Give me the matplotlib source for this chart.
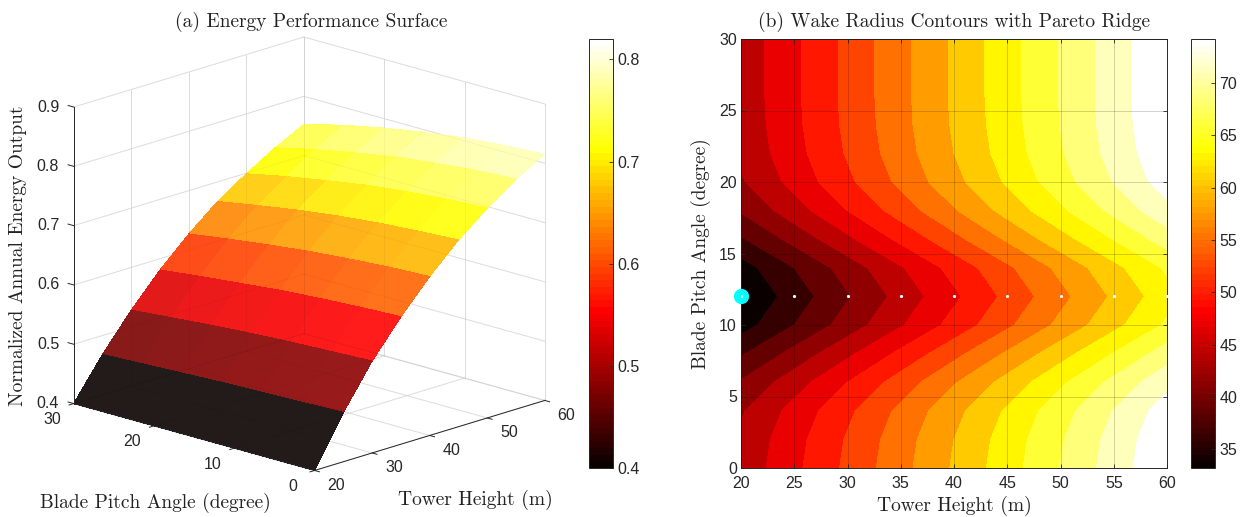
import numpy as np
import matplotlib
matplotlib.use('Agg')
import matplotlib.pyplot as plt
from matplotlib.cm import ScalarMappable
from matplotlib.colors import Normalize
from mpl_toolkits.mplot3d import proj3d

# surface panel
surf_height = [20, 25, 30, 35, 40, 45, 50, 55, 60]
surf_pitch = [0, 5, 10, 15, 20, 25, 30]
energy = [
    [.400, .483, .555, .615, .668, .715, .754, .788, .815],
    [.400, .481, .552, .612, .665, .711, .750, .784, .811],
    [.400, .479, .549, .608, .660, .706, .744, .777, .805],
    [.400, .477, .545, .603, .654, .699, .736, .769, .796],
    [.400, .474, .540, .596, .646, .690, .725, .757, .784],
    [.400, .471, .534, .589, .637, .679, .713, .744, .770],
    [.400, .468, .528, .581, .627, .667, .699, .728, .753],
]

# contour panel
wake_height = [20, 25, 30, 35, 40, 45, 50, 55, 60]
wake_pitch = [0, 2, 4, 6, 8, 10, 12, 14, 16, 18, 20, 22, 24, 26, 28, 30]
wake = [
    [44.2, 47.9, 51.6, 55.3, 59.0, 62.7, 66.4, 70.1, 73.8],
    [43.9, 47.6, 51.3, 55.0, 58.7, 62.4, 66.1, 69.8, 73.5],
    [43.1, 46.8, 50.5, 54.2, 57.9, 61.6, 65.3, 69.0, 72.7],
    [41.1, 44.8, 48.5, 52.2, 55.9, 59.6, 63.3, 67.0, 70.7],
    [38.0, 41.7, 45.4, 49.1, 52.8, 56.5, 60.2, 63.9, 67.6],
    [34.6, 38.3, 42.0, 45.7, 49.4, 53.1, 56.8, 60.5, 64.2],
    [33.2, 36.9, 40.6, 44.3, 48.0, 51.7, 55.4, 59.1, 62.8],
    [34.6, 38.3, 42.0, 45.7, 49.4, 53.1, 56.8, 60.5, 64.2],
    [38.0, 41.7, 45.4, 49.1, 52.8, 56.5, 60.2, 63.9, 67.6],
    [41.1, 44.8, 48.5, 52.2, 55.9, 59.6, 63.3, 67.0, 70.7],
    [43.1, 46.8, 50.5, 54.2, 57.9, 61.6, 65.3, 69.0, 72.7],
    [43.9, 47.6, 51.3, 55.0, 58.7, 62.4, 66.1, 69.8, 73.5],
    [44.2, 47.9, 51.6, 55.3, 59.0, 62.7, 66.4, 70.1, 73.8],
    [44.3, 48.0, 51.7, 55.4, 59.1, 62.8, 66.5, 70.2, 73.9],
    [44.3, 48.0, 51.7, 55.4, 59.1, 62.8, 66.5, 70.2, 73.9],
    [44.3, 48.0, 51.7, 55.4, 59.1, 62.8, 66.5, 70.2, 73.9],
]
wake_levels = [33.2, 35.75, 38.3, 40.85, 43.4, 45.95, 48.5, 51.05, 53.6, 56.15,
               58.7, 61.25, 63.8, 66.35, 68.9, 71.45, 74.2]
ridge_height = [20, 25, 30, 35, 40, 45, 50, 55, 60]
ridge_pitch = [12, 12, 12, 12, 12, 12, 12, 12, 12]

W, H = 1243, 517
DARK = '#262626'
GRID = '#e6e6e6'
SERIF = 'cmr10'
TICK_FS = 11.5
LABEL_FS = 14
plt.rcParams['font.family'] = ['Liberation Sans', 'DejaVu Sans']
plt.rcParams['axes.unicode_minus'] = False


def px_axes(fig, left, top, right, bottom, **kw):
    return fig.add_axes([left / W, 1 - bottom / H, (right - left) / W, (bottom - top) / H], **kw)


def add_colorbar(fig, box, vmin, vmax, ticks, labels):
    cax = px_axes(fig, *box)
    sm = ScalarMappable(Normalize(vmin, vmax), plt.get_cmap('hot', 64))
    cb = fig.colorbar(sm, cax=cax, ticks=ticks)
    cb.ax.set_yticklabels(labels)
    cb.ax.tick_params(direction='in', length=3, width=0.6, color=DARK, labelcolor=DARK,
                      labelsize=TICK_FS, pad=3)
    cb.outline.set_linewidth(0.7)
    cb.outline.set_edgecolor(DARK)


def draw_grid(ax, color, alpha, zorder):
    for v in xt:
        ax.plot([v, v], [0, 30], [0.4, 0.4], color=color, alpha=alpha, lw=0.7, zorder=zorder)
        ax.plot([v, v], [30, 30], [0.4, 0.9], color=color, alpha=alpha, lw=0.7, zorder=zorder)
    for v in yt:
        ax.plot([20, 60], [v, v], [0.4, 0.4], color=color, alpha=alpha, lw=0.7, zorder=zorder)
        ax.plot([60, 60], [v, v], [0.4, 0.9], color=color, alpha=alpha, lw=0.7, zorder=zorder)
    for v in zt:
        ax.plot([20, 60], [30, 30], [v, v], color=color, alpha=alpha, lw=0.7, zorder=zorder)
        ax.plot([60, 60], [0, 30], [v, v], color=color, alpha=alpha, lw=0.7, zorder=zorder)


def label3d(ax, x, y, z, s):
    # Text3D reports a wrong extent after drawing, so place plain text at the projected point
    px, py, _ = proj3d.proj_transform(x, y, z, ax.get_proj())
    ax.text2D(px, py, s, transform=ax.transData, ha='center', va='center',
              fontsize=TICK_FS, color=DARK)


fig = plt.figure(figsize=(W / 100, H / 100), dpi=100)

# (a) surface
ax = fig.add_axes([52.5 / W, 1 - 510.5 / H, 500 / W, 500 / H], projection='3d', proj_type='ortho')
ax.set_axis_off()
ax.computed_zorder = False
ax.view_init(elev=16.9, azim=-136.3)
ax.set_box_aspect((1, 1, 0.93), zoom=1.095)
ax.set_xlim(20, 60, view_margin=0)
ax.set_ylim(0, 30, view_margin=0)
ax.set_zlim(0.4, 0.9, view_margin=0)

xt = [20, 30, 40, 50, 60]
yt = [0, 10, 20, 30]
zt = [0.4, 0.5, 0.6, 0.7, 0.8, 0.9]
draw_grid(ax, GRID, 1.0, 1)

X, Y = np.meshgrid(surf_height, surf_pitch)
Z = np.array(energy)
# the original faces are slightly see-through: blend with white so faces do not seam
face = plt.get_cmap('hot')(Normalize(0.4, 0.82)(Z))
face[..., :3] = 0.9 * face[..., :3] + 0.1
ax.plot_surface(X, Y, Z, facecolors=face, rstride=1, cstride=1, shade=False,
                linewidth=0, antialiased=False, zorder=2)
draw_grid(ax, 'black', 0.04, 2.5)

# axis lines and ticks on top of the surface
ax.plot([20, 60], [0, 0], [0.4, 0.4], color=DARK, lw=0.7, zorder=3)
ax.plot([20, 20], [0, 30], [0.4, 0.4], color=DARK, lw=0.7, zorder=3)
ax.plot([20, 20], [30, 30], [0.4, 0.9], color=DARK, lw=0.7, zorder=3)
for v in xt:
    ax.plot([v, v], [0, -0.6], [0.4, 0.4], color=DARK, lw=0.7, zorder=3)
    label3d(ax, v, -2.7, 0.385, str(v))
for v in yt:
    ax.plot([20, 19.2], [v, v], [0.4, 0.4], color=DARK, lw=0.7, zorder=3)
    label3d(ax, 16.2, v, 0.384, str(v))
for v in zt:
    ax.plot([20, 20], [30, 30.7], [v, v], color=DARK, lw=0.7, zorder=3)
    label3d(ax, 20, 33.2, v - 0.012, '%.1f' % v)

fig.text(311 / W, 1 - 22 / H, '(a) Energy Performance Surface', family=SERIF, fontsize=LABEL_FS,
         ha='center', va='center', color='#222222')
fig.text(18 / W, 1 - 256 / H, 'Normalized Annual Energy Output', family=SERIF, fontsize=LABEL_FS,
         rotation=90, ha='center', va='center', color='#222222')
fig.text(155 / W, 1 - 503 / H, 'Blade Pitch Angle (degree)', family=SERIF, fontsize=LABEL_FS,
         ha='center', va='center', color='#222222')
fig.text(475 / W, 1 - 500 / H, 'Tower Height (m)', family=SERIF, fontsize=LABEL_FS,
         ha='center', va='center', color='#222222')

add_colorbar(fig, (589, 39, 613, 468), 0.4, 0.82, [0.4, 0.5, 0.6, 0.7, 0.8],
             ['0.4', '0.5', '0.6', '0.7', '0.8'])

# (b) contours
ax2 = px_axes(fig, 741, 39, 1167, 468)
n_bands = len(wake_levels) - 1
bands = [plt.get_cmap('hot')(k / (n_bands - 1)) for k in range(n_bands)]
ax2.contourf(wake_height, wake_pitch, np.array(wake), levels=wake_levels, colors=bands, zorder=1)
ax2.plot(ridge_height[0], ridge_pitch[0], 'o', color='cyan', ms=11, mew=0, clip_on=False, zorder=5)
ax2.plot(ridge_height, ridge_pitch, 'o', color='white', ms=2.3, mew=0, zorder=6)
ax2.set_xlim(20, 60)
ax2.set_ylim(0, 30)
ax2.set_xticks(range(20, 61, 5))
ax2.set_yticks(range(0, 31, 5))
ax2.set_axisbelow(False)
ax2.grid(True, color='black', alpha=0.18, lw=0.7)
ax2.tick_params(direction='in', top=True, right=True, length=3, width=0.6, color=DARK,
                labelcolor=DARK, labelsize=TICK_FS, pad=3)
ax2.tick_params(axis='x', pad=6)
for s in ax2.spines.values():
    s.set_linewidth(0.7)
    s.set_edgecolor(DARK)
ax2.set_title('(b) Wake Radius Contours with Pareto Ridge', family=SERIF, fontsize=LABEL_FS,
              color='#222222', pad=9)
ax2.set_xlabel('Tower Height (m)', family=SERIF, fontsize=LABEL_FS, color='#222222', labelpad=3)
ax2.set_ylabel('Blade Pitch Angle (degree)', family=SERIF, fontsize=LABEL_FS, color='#222222', labelpad=6)

add_colorbar(fig, (1191, 39, 1215, 468), 33.2, 74.2, [35, 40, 45, 50, 55, 60, 65, 70],
             ['35', '40', '45', '50', '55', '60', '65', '70'])

fig.savefig('out.png', dpi=100)
